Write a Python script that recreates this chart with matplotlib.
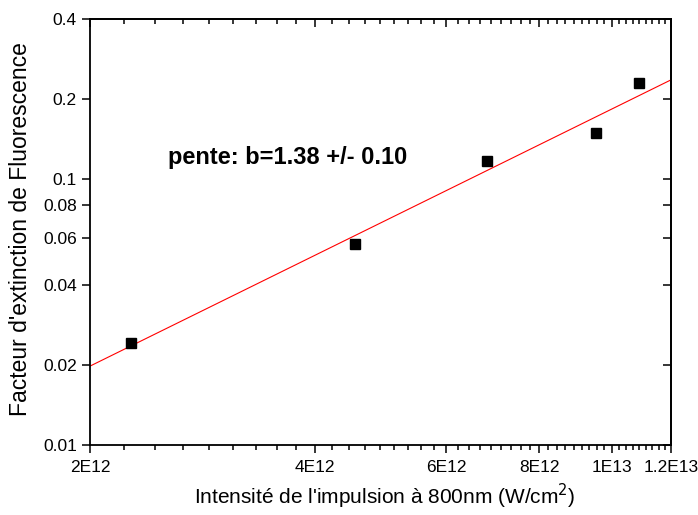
import numpy as np
import matplotlib.pyplot as plt
from matplotlib.ticker import FixedLocator, FixedFormatter, NullFormatter

plt.rcParams.update({'font.family': ['Liberation Sans', 'DejaVu Sans'], 'font.size': 12})

# measured points
intensity = [2.27e12, 4.53e12, 6.81e12, 9.53e12, 1.088e13]
quench = [0.0242, 0.0569, 0.117, 0.149, 0.230]

# linear fit (log-log) drawn across the full x range
fit_x = [2e12, 1.2e13]
fit_y = [0.0198, 0.236]
fit_label = 'pente: b=1.38 +/- 0.10'

x_major = [2e12, 4e12, 6e12, 8e12, 1e13, 1.2e13]
x_major_labels = ['2E12', '4E12', '6E12', '8E12', '1E13', '1.2E13']
y_major = [0.01, 0.02, 0.04, 0.06, 0.08, 0.1, 0.2, 0.4]
y_major_labels = ['0.01', '0.02', '0.04', '0.06', '0.08', '0.1', '0.2', '0.4']

fig = plt.figure(figsize=(6.98, 5.15), dpi=100)
ax = fig.add_axes([0.129, 0.136, 0.832, 0.827])

ax.plot(fit_x, fit_y, color='red', lw=0.8)
ax.plot(intensity, quench, 's', color='black', ms=7, mec='black')

ax.set_xscale('log')
ax.set_yscale('log')
ax.set_xlim(2e12, 1.2e13)
ax.set_ylim(0.01, 0.4)

# Origin-style minor ticks: 8 between each pair of major ticks
x_minor = []
for a, b in zip(x_major[:-1], x_major[1:]):
	x_minor += [a + k * (b - a) / 9 for k in range(1, 9)]

ax.xaxis.set_major_locator(FixedLocator(x_major))
ax.xaxis.set_major_formatter(FixedFormatter(x_major_labels))
ax.xaxis.set_minor_locator(FixedLocator(x_minor))
ax.xaxis.set_minor_formatter(NullFormatter())
ax.yaxis.set_major_locator(FixedLocator(y_major))
ax.yaxis.set_major_formatter(FixedFormatter(y_major_labels))
ax.yaxis.set_minor_locator(FixedLocator([]))

for s in ax.spines.values():
	s.set_linewidth(1.3)

ax.tick_params(which='both', direction='out', width=1.1, labelsize=12.5,
	top=False, right=False)
ax.tick_params(which='major', length=5.5)
ax.tick_params(which='minor', length=3.5)
ax.tick_params(axis='x', which='major', pad=5.5)
ax.tick_params(axis='y', which='major', pad=4)

# mirrored ticks on top/right point inward
secx = ax.secondary_xaxis('top')
secx.xaxis.set_major_locator(FixedLocator(x_major))
secx.xaxis.set_minor_locator(FixedLocator(x_minor))
secx.xaxis.set_major_formatter(NullFormatter())
secx.xaxis.set_minor_formatter(NullFormatter())
secx.tick_params(which='both', direction='in', width=1.1)
secx.tick_params(which='major', length=5.5)
secx.tick_params(which='minor', length=3.5)
secx.spines['top'].set_linewidth(1.3)

secy = ax.secondary_yaxis('right')
secy.yaxis.set_major_locator(FixedLocator(y_major))
secy.yaxis.set_minor_locator(FixedLocator([]))
secy.yaxis.set_major_formatter(NullFormatter())
secy.tick_params(which='both', direction='in', width=1.1, length=5.5)
secy.spines['right'].set_linewidth(1.3)

ax.set_xlabel('Intensité de l\'impulsion à 800nm (W/cm$^2$)', fontsize=15, va='center')
ax.xaxis.set_label_coords(0.508, -0.12)
ax.set_ylabel('Facteur d\'extinction de Fluorescence', fontsize=16.5, va='center', ha='center')
ax.yaxis.set_label_coords(-0.12, 0.507)

ax.text(0.1335, 0.676, fit_label, transform=ax.transAxes, fontsize=17,
	fontweight='bold', va='center', ha='left')

fig.savefig('out.png', dpi=100)
